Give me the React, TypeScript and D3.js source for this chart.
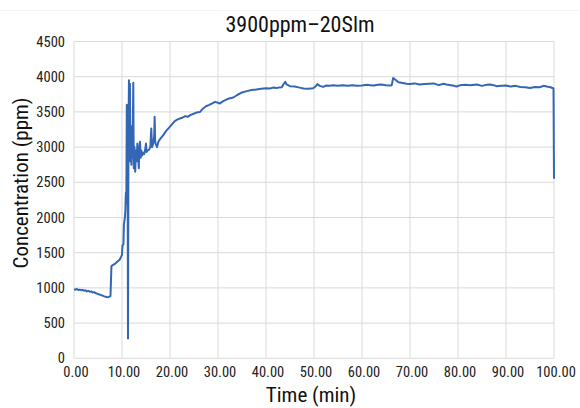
import React from "react";
import * as d3 from "d3";

const title = "3900ppm–20Slm";
const xLabel = "Time (min)";
const yLabel = "Concentration (ppm)";
const xTicks = [0, 10, 20, 30, 40, 50, 60, 70, 80, 90, 100];
const yTicks = [0, 500, 1000, 1500, 2000, 2500, 3000, 3500, 4000, 4500];

const times = [
  0, 0.3, 0.6, 0.9, 1.2, 1.5, 1.8, 2.1, 2.4, 2.7, 3.0, 3.3, 3.6, 3.9, 4.2, 4.5, 4.8, 5.1, 5.4, 5.7, 6.0, 6.3, 6.6, 6.9, 7.2, 7.5, 7.6,
  7.8, 8.0, 8.5, 9.0, 9.5, 9.8, 10.0, 10.1, 10.3, 10.4, 10.6, 10.7, 10.8, 10.9, 11.0, 11.05, 11.15, 11.25, 11.35, 11.45, 11.55, 11.65,
  11.75, 11.85, 11.95, 12.05, 12.2, 12.35, 12.45, 12.6, 12.75, 12.9, 13.05, 13.2, 13.35, 13.5, 13.6, 13.75, 13.9, 14.05, 14.2, 14.4,
  14.6, 14.8, 15.0, 15.1, 15.3, 15.6, 15.9, 16.1, 16.25, 16.5, 16.7, 16.8, 16.9, 17.0, 17.3, 17.6, 18.0, 18.6, 19.2, 20.0, 20.5, 21.0,
  21.5, 22.1, 22.6, 23.2, 23.7, 24.2, 24.8, 25.5, 26.25, 26.9, 27.5, 28.2, 28.8, 29.4, 30.0, 30.4, 31.0, 31.6, 32.3, 33.2, 34.0, 35.0,
  36.0, 37.0, 38.0, 39.0, 40.0, 40.8, 41.5, 42.2, 42.6, 43.3, 43.7, 44.0, 44.3, 45.0, 46.0, 47.0, 47.8, 48.8, 49.8, 50.3, 50.7, 51.2,
  51.9, 52.6, 53.3, 54, 55, 56, 57, 58, 58.9, 60, 61, 61.7, 62.5, 63.3, 64, 65, 65.8, 66.2, 66.5, 66.9, 67.6, 68.5, 69.3, 70, 71, 72,
  73, 74, 74.9, 76, 77, 77.6, 78.5, 79.2, 79.7, 80.5, 81.5, 82.5, 83.9, 85, 86, 86.7, 87.4, 88.1, 89, 90, 91, 92, 93, 94, 95, 96, 97,
  97.8, 98.5, 99.3, 99.9, 100,
];
const concentration = [
  980, 975, 985, 970, 975, 968, 972, 960, 965, 950, 958, 945, 950, 935, 940, 925, 920, 910, 905, 895, 890, 880, 875, 868, 872, 880, 885,
  1310, 1320, 1340, 1370, 1400, 1440, 1470, 1600, 1620, 1900, 2000, 2100, 2350, 2200, 3600, 2500, 3550, 280, 3200, 3950, 2800, 3900,
  2900, 3300, 2750, 3100, 2850, 3913, 2700, 3000, 2650, 2950, 2800, 3050, 2900, 2700, 2950, 3075, 2850, 2950, 2880, 2920,
  2900, 2950, 3050, 2930, 2950, 2960, 3000, 3265, 3000, 3050, 3150, 3430, 3100, 3050, 3000, 3080, 3120, 3170, 3230, 3290, 3330, 3370,
  3390, 3407, 3420, 3440, 3430, 3454, 3470, 3490, 3500, 3549, 3580, 3600, 3620, 3643, 3630, 3620, 3650, 3670, 3690, 3705, 3740, 3776,
  3795, 3810, 3818, 3830, 3835, 3833, 3845, 3840, 3845, 3850, 3900, 3927, 3890, 3866, 3860, 3845, 3833, 3830, 3835, 3860, 3894, 3870,
  3855, 3875, 3870, 3878, 3872, 3880, 3870, 3878, 3870, 3875, 3885, 3880, 3875, 3885, 3890, 3880, 3875, 3880, 3983, 3960, 3920, 3910, 3900, 3895, 3905, 3890,
  3895, 3900, 3905, 3880, 3900, 3890, 3880, 3870, 3860, 3880, 3885, 3880, 3890, 3870, 3885, 3890, 3880, 3865, 3870, 3875, 3860, 3870, 3855, 3850, 3840, 3855, 3850,
  3870, 3860, 3850, 3833, 2550,
];

const W = 580;
const H = 408;
const left = 74;
const right = 554;
const top = 41.5;
const bottom = 358.3;
const FONT = "'Liberation Sans Narrow', 'Roboto Condensed', 'Arial Narrow', 'DejaVu Sans Condensed', sans-serif";

export default function App() {
  const x = d3.scaleLinear().domain([0, 100]).range([left, right]);
  const y = d3.scaleLinear().domain([0, 4500]).range([bottom, top]);
  const data = times.map((t, i) => [t, concentration[i]] as [number, number]);
  const line = d3
    .line<[number, number]>()
    .x((d) => x(d[0]))
    .y((d) => y(d[1]));

  return (
    <svg
      width={W}
      height={H}
      style={{ position: "absolute", left: 0, top: 0, background: "#fff" }}
      fontFamily={FONT}
    >
      <rect x={0} y={0} width={W} height={H} fill="#fff" />
      <line x1={0} x2={W} y1={10.5} y2={10.5} stroke="#f3f3f3" strokeWidth={1} />
      {yTicks.map((v) => (
        <line key={"gy" + v} x1={left} x2={right} y1={y(v)} y2={y(v)} stroke="#d9d9d9" strokeWidth={1} />
      ))}
      {xTicks.map((v) => (
        <line key={"gx" + v} x1={x(v)} x2={x(v)} y1={top} y2={bottom} stroke="#d9d9d9" strokeWidth={1} />
      ))}
      <path d={line(data) || ""} fill="none" stroke="#3366b4" strokeWidth={2} strokeLinejoin="round" />
      {yTicks.map((v) => (
        <text key={"ty" + v} x={left - 9} y={y(v)} dy="0.35em" textAnchor="end" fontSize={14.5} fill="#222">
          {v}
        </text>
      ))}
      {xTicks.map((v) => (
        <text key={"tx" + v} x={x(v) + 2} y={bottom + 14} dy="0.35em" textAnchor="middle" fontSize={14.5} fill="#222">
          {v.toFixed(2)}
        </text>
      ))}
      <text x={300} y={32} textAnchor="middle" fontSize={22} fill="#111">
        {title}
      </text>
      <text x={311} y={402} textAnchor="middle" fontSize={21} fill="#111">
        {xLabel}
      </text>
      <text
        transform={`translate(28, 183) rotate(-90)`}
        textAnchor="middle"
        fontSize={21}
        fill="#111"
      >
        {yLabel}
      </text>
    </svg>
  );
}
